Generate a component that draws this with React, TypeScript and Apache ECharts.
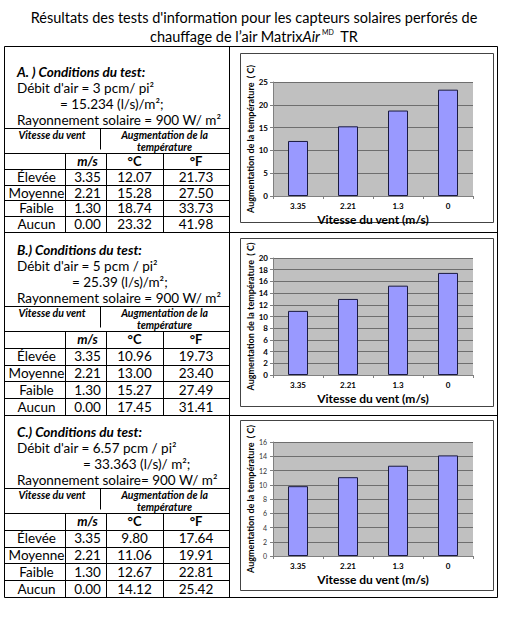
import { useEffect, useRef } from "react";
import * as echarts from "echarts";

// ---- data ----
const windSpeedCats = ["3.35", "2.21", "1.3", "0"];
const windLevels = ["Élevée", "Moyenne", "Faible", "Aucun"];
const windMs = ["3.35", "2.21", "1.30", "0.00"];

const riseA_C = [12.07, 15.28, 18.74, 23.32];
const riseA_F = [21.73, 27.5, 33.73, 41.98];
const riseB_C = [10.96, 13.0, 15.27, 17.45];
const riseB_F = [19.73, 23.4, 27.49, 31.41];
const riseC_C = [9.8, 11.06, 12.67, 14.12];
const riseC_F = [17.64, 19.91, 22.81, 25.42];

const yMaxes = [25, 20, 16];
const yIntervals = [5, 2, 2];

const sectionTitles = ["A. ) Conditions du test:", "B.) Conditions du test:", "C.) Conditions du test:"];
const airflowImperial = ["Débit d'air = 3 pcm/ pi²", "Débit d'air = 5 pcm / pi²", "Débit d'air = 6.57 pcm / pi²"];
const airflowMetric = ["= 15.234 (l/s)/m²;", "= 25.39 (l/s)/m²;", "= 33.363 (l/s)/ m²;"];
const solarLines = ["Rayonnement solaire = 900 W/ m²", "Rayonnement solaire = 900 W/ m²", "Rayonnement solaire= 900 W/ m²"];

const pageTitle1 = "Résultats des tests d'information pour les capteurs solaires perforés de";
const pageTitle2 = "chauffage de l’air Matrix{i|Air}{s|MD} TR";
const yAxisTitle = "Augmentation de la température  ( C)";
const xAxisTitle = "Vitesse du vent (m/s)";

// ---- layout ----
const FONT = "Lato, 'Open Sans', sans-serif";
const OUT = { left: 4, right: 497, top: 46, bottom: 597, split: 229 };
const sectionBottoms = [232, 415, 597];
const tableTops = [128, 306, 488];
const metricIndent = [60, 72, 83];
const COLS = [4, 65, 106, 163, 229];
const HEAD_SPLIT = 100;
const chartBoxes = [
  [240, 53, 253, 169],
  [240, 238, 253, 168],
  [240, 420, 253, 170],
];
const grids = [
  { left: 273, top: 82, width: 200, height: 114 },
  { left: 273, top: 258, width: 200, height: 117 },
  { left: 273, top: 442, width: 200, height: 114 },
];

function txt(x: number, y: number, text: string, o: any = {}) {
  const align = o.align ?? "left";
  const v = o.v ?? "middle";
  return {
    type: "text",
    x,
    y,
    silent: true,
    style: {
      text,
      fill: o.fill ?? "#000",
      fontSize: o.size ?? 13.5,
      fontFamily: o.family ?? FONT,
      fontWeight: o.weight ?? "normal",
      fontStyle: o.italic ? "italic" : "normal",
      lineHeight: o.lh,
      align,
      textAlign: align,
      verticalAlign: v,
      textVerticalAlign: v,
      rich: o.rich,
    },
  };
}

function ln(x1: number, y1: number, x2: number, y2: number, stroke = "#000") {
  return {
    type: "line",
    silent: true,
    shape: { x1: x1 + 0.5, y1: y1 + 0.5, x2: x2 + 0.5, y2: y2 + 0.5 },
    style: { stroke, lineWidth: 1 },
  };
}

export default function App() {
  const ref = useRef<HTMLDivElement>(null);

  useEffect(() => {
    if (!ref.current) return;
    const chart = echarts.init(ref.current, undefined, { renderer: "svg" });

    const riseC = [riseA_C, riseB_C, riseC_C];
    const riseF = [riseA_F, riseB_F, riseC_F];
    const g: any[] = [];

    // page title
    g.push(txt(254, 17, pageTitle1, { align: "center", size: 14.5 }));
    g.push(
      txt(254, 36, pageTitle2, {
        align: "center",
        size: 14.5,
        rich: {
          i: { fontStyle: "italic", fontSize: 14.5, fontFamily: FONT, fill: "#000" },
          s: { fontSize: 7, fontFamily: FONT, fill: "#000", verticalAlign: "top", padding: [0, 3, 0, 2] },
        },
      })
    );

    // outer frame
    g.push(ln(OUT.left, OUT.top, OUT.right, OUT.top));
    g.push(ln(OUT.left, OUT.top, OUT.left, OUT.bottom));
    g.push(ln(OUT.right, OUT.top, OUT.right, OUT.bottom));
    g.push(ln(OUT.left, OUT.bottom, OUT.right, OUT.bottom));
    g.push(ln(OUT.split, OUT.top, OUT.split, OUT.bottom));

    const headFont = { align: "center", size: 10.5, weight: "bold", italic: true, lh: 11 };

    for (let s = 0; s < 3; s++) {
      const tt = tableTops[s];
      const bot = sectionBottoms[s];
      if (s < 2) g.push(ln(OUT.left, bot, OUT.right, bot));

      // conditions text
      g.push(txt(17, tt - 56, sectionTitles[s], { weight: "bold", italic: true }));
      g.push(txt(17, tt - 40, airflowImperial[s]));
      g.push(txt(metricIndent[s], tt - 24, airflowMetric[s]));
      g.push(txt(17, tt - 8, solarLines[s]));

      // table grid
      const headH = 25;
      const rowH = (bot - tt - headH) / 5;
      g.push(ln(OUT.left, tt, OUT.split, tt));
      g.push(ln(HEAD_SPLIT, tt, HEAD_SPLIT, tt + headH - 4));
      g.push(txt((COLS[0] + HEAD_SPLIT) / 2, tt + 7, "Vitesse du vent", headFont));
      g.push(txt((HEAD_SPLIT + COLS[4]) / 2, tt + 7, "Augmentation de la", headFont));
      g.push(txt((HEAD_SPLIT + COLS[4]) / 2, tt + 19, "température", headFont));
      for (let r = 0; r < 5; r++) {
        const y = Math.round(tt + headH + r * rowH);
        g.push(ln(OUT.left, y, OUT.split, y));
      }
      for (let c = 1; c < 4; c++) {
        g.push(ln(COLS[c], tt + headH, COLS[c], bot));
      }
      const hy = tt + headH + rowH / 2;
      g.push(txt((COLS[1] + COLS[2]) / 2 + 2, hy, "m/s", { align: "center", size: 13, weight: "bold", italic: true }));
      g.push(txt((COLS[2] + COLS[3]) / 2, hy, "°C", { align: "center", size: 13, weight: "bold" }));
      g.push(txt((COLS[3] + COLS[4]) / 2, hy, "°F", { align: "center", size: 13, weight: "bold" }));
      for (let r = 0; r < 4; r++) {
        const y = tt + headH + (r + 1.5) * rowH;
        g.push(txt((COLS[0] + COLS[1]) / 2 + 2, y, windLevels[r], { align: "center" }));
        g.push(txt((COLS[1] + COLS[2]) / 2 + 2, y, windMs[r], { align: "center" }));
        g.push(txt((COLS[2] + COLS[3]) / 2, y, riseC[s][r].toFixed(2), { align: "center" }));
        g.push(txt((COLS[3] + COLS[4]) / 2, y, riseF[s][r].toFixed(2), { align: "center" }));
      }

      // chart frame
      const b = chartBoxes[s];
      g.push({
        type: "rect",
        silent: true,
        shape: { x: b[0] + 0.5, y: b[1] + 0.5, width: b[2], height: b[3] },
        style: { fill: "none", stroke: "#444", lineWidth: 1 },
      });
    }

    const tickFont = { fontFamily: FONT, fontWeight: "bold" as const, fontSize: 8, color: "#000" };

    const option: any = {
      animation: false,
      backgroundColor: "#fff",
      graphic: { elements: g },
      grid: grids.map((gr) => ({
        ...gr,
        show: true,
        backgroundColor: "#c0c0c0",
        borderWidth: 0,
        containLabel: false,
      })),
      xAxis: grids.map((_, i) => ({
        type: "category",
        gridIndex: i,
        data: windSpeedCats,
        boundaryGap: true,
        axisLine: { lineStyle: { color: "#808080", width: 1 } },
        axisTick: { show: true, length: 3, lineStyle: { color: "#808080" } },
        axisLabel: { ...tickFont, margin: 6 },
        name: xAxisTitle,
        nameLocation: "middle",
        nameGap: 17,
        nameTextStyle: { fontFamily: FONT, fontWeight: "bold", fontSize: 12, color: "#000" },
      })),
      yAxis: grids.map((_, i) => ({
        type: "value",
        gridIndex: i,
        min: 0,
        max: yMaxes[i],
        interval: yIntervals[i],
        axisLine: { show: true, lineStyle: { color: "#808080", width: 1 } },
        axisTick: { show: true, length: 3, lineStyle: { color: "#808080" } },
        axisLabel:
          i === 2
            ? { fontFamily: FONT, fontSize: 7, color: "#333", margin: 6 }
            : { ...tickFont, margin: 5 },
        splitLine: { show: true, lineStyle: { color: "#6e6e6e", width: 1 } },
        name: yAxisTitle,
        nameLocation: "middle",
        nameRotate: 90,
        nameGap: 17,
        nameTextStyle: { fontFamily: FONT, fontWeight: "bold", fontSize: 9, color: "#000" },
      })),
      series: [riseA_C, riseB_C, riseC_C].map((d, i) => ({
        type: "bar",
        xAxisIndex: i,
        yAxisIndex: i,
        data: d,
        barWidth: "40%",
        itemStyle: { color: "#9999ff", borderColor: "#1a1a40", borderWidth: 1 },
      })),
    };

    chart.setOption(option);
    return () => chart.dispose();
  }, []);

  return (
    <div
      ref={ref}
      style={{ position: "absolute", left: 0, top: 0, width: 505, height: 620, background: "#fff" }}
    />
  );
}
